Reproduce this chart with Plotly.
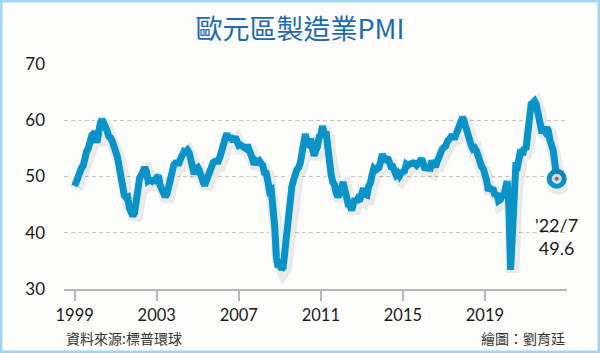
import plotly.graph_objects as go

# ---- data: Eurozone manufacturing PMI, monthly, 1999/01 - 2022/07 ----
start_year = 1999
pmi_1999 = [48.3, 49.3, 50.5, 50.9, 51.5, 51.9, 53.6, 54.5, 55.0, 56.5, 57.3, 57.6]
pmi_2000 = [57.5, 56.0, 58.2, 59.5, 60.2, 59.6, 58.8, 58.1, 57.1, 56.9, 56.3, 55.6]
pmi_2001 = [54.9, 53.5, 51.9, 49.7, 48.5, 46.7, 46.3, 46.4, 44.4, 43.3, 43.0, 43.5]
pmi_2002 = [46.4, 48.3, 49.8, 50.2, 51.4, 51.6, 50.9, 49.2, 49.4, 49.2, 49.6, 48.8]
pmi_2003 = [49.8, 50.2, 48.4, 47.9, 46.9, 46.4, 46.9, 48.5, 49.8, 51.2, 52.1, 52.4]
pmi_2004 = [52.4, 52.4, 53.2, 53.7, 54.5, 54.4, 54.7, 54.2, 53.1, 52.4, 50.4, 51.4]
pmi_2005 = [51.6, 51.0, 50.4, 49.2, 48.4, 49.3, 50.2, 50.5, 51.7, 52.5, 52.7, 52.8]
pmi_2006 = [52.7, 53.5, 54.8, 55.9, 56.7, 57.7, 56.5, 57.2, 56.6, 56.6, 57.0, 56.5]
pmi_2007 = [55.5, 55.6, 55.4, 55.4, 55.0, 55.6, 54.9, 54.3, 53.2, 52.1, 52.8, 52.6]
pmi_2008 = [52.8, 52.3, 52.0, 50.7, 50.6, 49.2, 47.4, 47.6, 45.0, 41.1, 35.6, 33.9]
pmi_2009 = [34.4, 33.5, 33.9, 36.8, 40.7, 42.6, 46.3, 48.2, 49.3, 50.7, 51.2, 51.6]
pmi_2010 = [52.4, 54.2, 56.6, 57.6, 55.8, 55.6, 56.7, 55.1, 53.7, 54.6, 55.3, 57.1]
pmi_2011 = [57.3, 59.0, 57.5, 58.0, 54.6, 52.0, 50.4, 49.0, 48.5, 47.1, 46.4, 46.9]
pmi_2012 = [48.8, 49.0, 47.7, 45.9, 45.1, 45.1, 44.0, 45.1, 46.1, 45.4, 46.2, 46.1]
pmi_2013 = [47.9, 47.9, 46.8, 46.7, 48.3, 48.8, 50.3, 51.4, 51.1, 51.3, 51.6, 52.7]
pmi_2014 = [54.0, 53.2, 53.0, 53.4, 52.2, 51.8, 51.8, 50.7, 50.3, 50.6, 50.1, 50.6]
pmi_2015 = [51.0, 51.0, 52.2, 52.0, 52.2, 52.5, 52.4, 52.3, 52.0, 52.3, 52.8, 53.2]
pmi_2016 = [52.3, 51.2, 51.6, 51.7, 51.5, 52.8, 52.0, 51.7, 52.6, 53.5, 53.7, 54.9]
pmi_2017 = [55.2, 55.4, 56.2, 56.7, 57.0, 57.4, 56.6, 57.4, 58.1, 58.5, 60.1, 60.6]
pmi_2018 = [59.6, 58.6, 56.6, 56.2, 55.5, 54.9, 55.1, 54.6, 53.2, 52.0, 51.8, 51.4]
pmi_2019 = [50.5, 49.3, 47.5, 47.9, 47.7, 47.6, 46.5, 47.0, 45.7, 45.9, 46.9, 46.3]
pmi_2020 = [47.9, 49.2, 44.5, 33.4, 39.4, 47.4, 51.8, 51.7, 53.7, 54.8, 53.8, 55.2]
pmi_2021 = [54.8, 57.9, 62.5, 62.9, 63.1, 63.4, 62.8, 61.4, 58.6, 58.3, 58.4, 58.0]
pmi_2022 = [58.7, 58.2, 56.5, 55.5, 54.6, 52.1, 49.6]

yearly = [pmi_1999, pmi_2000, pmi_2001, pmi_2002, pmi_2003, pmi_2004, pmi_2005,
          pmi_2006, pmi_2007, pmi_2008, pmi_2009, pmi_2010, pmi_2011, pmi_2012,
          pmi_2013, pmi_2014, pmi_2015, pmi_2016, pmi_2017, pmi_2018, pmi_2019,
          pmi_2020, pmi_2021, pmi_2022]

x_vals, y_vals = [], []
for i, yr in enumerate(yearly):
    for m, v in enumerate(yr):
        x_vals.append(start_year + i + m / 12.0)
        y_vals.append(v)

tick_years = [1999, 2003, 2007, 2011, 2015, 2019]
tick_labels = ["1999", "2003", "2007", "2011", "2015", "2019"]
y_ticks = [30, 40, 50, 60, 70]
end_label = "'22/7<br>49.6"

title_text = "歐元區製造業PMI"
source_text = "資料來源:標普環球"
credit_text = "繪圖：劉育廷"

# ---- layout geometry ----
W, H = 600, 353
ml, mr, mt, mb = 64, 33, 64, 64
pw, ph = W - ml - mr, H - mt - mb
x_range = [1998.48, 2023.0]
y_range = [30, 70]
px_per_x = pw / (x_range[1] - x_range[0])
px_per_y = ph / (y_range[1] - y_range[0])
sdx, sdy = 2.0, 3.0  # shadow offset in px

BLUE = "#0aa0da"
FONT_NUM = "Lato, 'Noto Sans', sans-serif"
FONT_CJK = "'Noto Sans CJK TC', 'Noto Sans CJK SC', sans-serif"
SHADOW = "rgba(0,0,0,0.08)"

fig = go.Figure()

# shadow (drawn on offset overlay axes)
fig.add_trace(go.Scatter(x=x_vals, y=y_vals, mode="lines", xaxis="x2", yaxis="y2",
                         line=dict(color=SHADOW, width=13),
                         hoverinfo="skip", showlegend=False))
fig.add_trace(go.Scatter(x=[x_vals[-1]], y=[y_vals[-1]], mode="markers", xaxis="x2", yaxis="y2",
                         marker=dict(size=26, color=SHADOW),
                         hoverinfo="skip", showlegend=False))
# white outline
fig.add_trace(go.Scatter(x=x_vals, y=y_vals, mode="lines",
                         line=dict(color="white", width=12.5),
                         hoverinfo="skip", showlegend=False))
fig.add_trace(go.Scatter(x=[x_vals[-1]], y=[y_vals[-1]], mode="markers",
                         marker=dict(size=26, color="white"),
                         hoverinfo="skip", showlegend=False))
# main line
fig.add_trace(go.Scatter(x=x_vals, y=y_vals, mode="lines",
                         line=dict(color=BLUE, width=7),
                         showlegend=False))
# end marker ring
fig.add_trace(go.Scatter(x=[x_vals[-1]], y=[y_vals[-1]], mode="markers",
                         marker=dict(size=15, color="white", line=dict(color=BLUE, width=5)),
                         showlegend=False))
fig.add_trace(go.Scatter(x=[x_vals[-1]], y=[y_vals[-1]], mode="markers",
                         marker=dict(size=4, color="#8a8a8a"),
                         showlegend=False))

fig.add_annotation(x=x_vals[-1], y=y_vals[-1], text=end_label, showarrow=False,
                   yshift=-58, xanchor="center", yanchor="middle", align="center",
                   font=dict(family=FONT_NUM, size=18, color="#1a1a1a"))

fig.add_annotation(x=0.0, y=-(337.5 - (H - mb)) / ph, xref="paper", yref="paper",
                   text=source_text, showarrow=False, xanchor="left", yanchor="middle",
                   font=dict(family=FONT_CJK, size=14, color="#333333"))
fig.add_annotation(x=1.0, y=-(338 - (H - mb)) / ph, xref="paper", yref="paper",
                   text=credit_text, showarrow=False, xanchor="right", yanchor="middle",
                   font=dict(family=FONT_CJK, size=14, color="#333333"))

# frame border around the whole figure
fig.add_shape(type="rect", xref="paper", yref="paper",
              x0=-ml / pw, x1=(W - ml) / pw, y0=-mb / ph, y1=(H - mb) / ph,
              line=dict(color="#a3d5ef", width=5), fillcolor="rgba(0,0,0,0)", layer="above")

fig.update_layout(
    width=W, height=H,
    margin=dict(l=ml, r=mr, t=mt, b=mb),
    paper_bgcolor="#fdfdfb", plot_bgcolor="#fdfdfb",
    title=dict(text=title_text, x=0.5, xref="container", xanchor="center",
               y=1 - 30 / H, yref="container", yanchor="middle",
               font=dict(family=FONT_CJK, size=27, color="#1f69ad", weight=400)),
    xaxis=dict(range=x_range, tickvals=tick_years, ticktext=tick_labels,
               showgrid=False, zeroline=False, showline=True, linecolor="#b8b8b8", linewidth=2,
               ticks="outside", ticklen=10, tickwidth=2, tickcolor="#b8b8b8",
               tickfont=dict(family=FONT_NUM, size=16.5, color="#1a1a1a")),
    yaxis=dict(range=y_range, tickvals=y_ticks, showgrid=True, gridcolor="#c4c4c4",
               gridwidth=1, griddash="4px,3px", zeroline=False, showline=False,
               ticks="", ticklabelstandoff=18,
               tickfont=dict(family=FONT_NUM, size=17, color="#1a1a1a")),
    xaxis2=dict(range=[x_range[0] - sdx / px_per_x, x_range[1] - sdx / px_per_x],
                overlaying="x", visible=False),
    yaxis2=dict(range=[y_range[0] + sdy / px_per_y, y_range[1] + sdy / px_per_y],
                overlaying="y", visible=False),
    showlegend=False,
)

fig.write_html("out.html")
